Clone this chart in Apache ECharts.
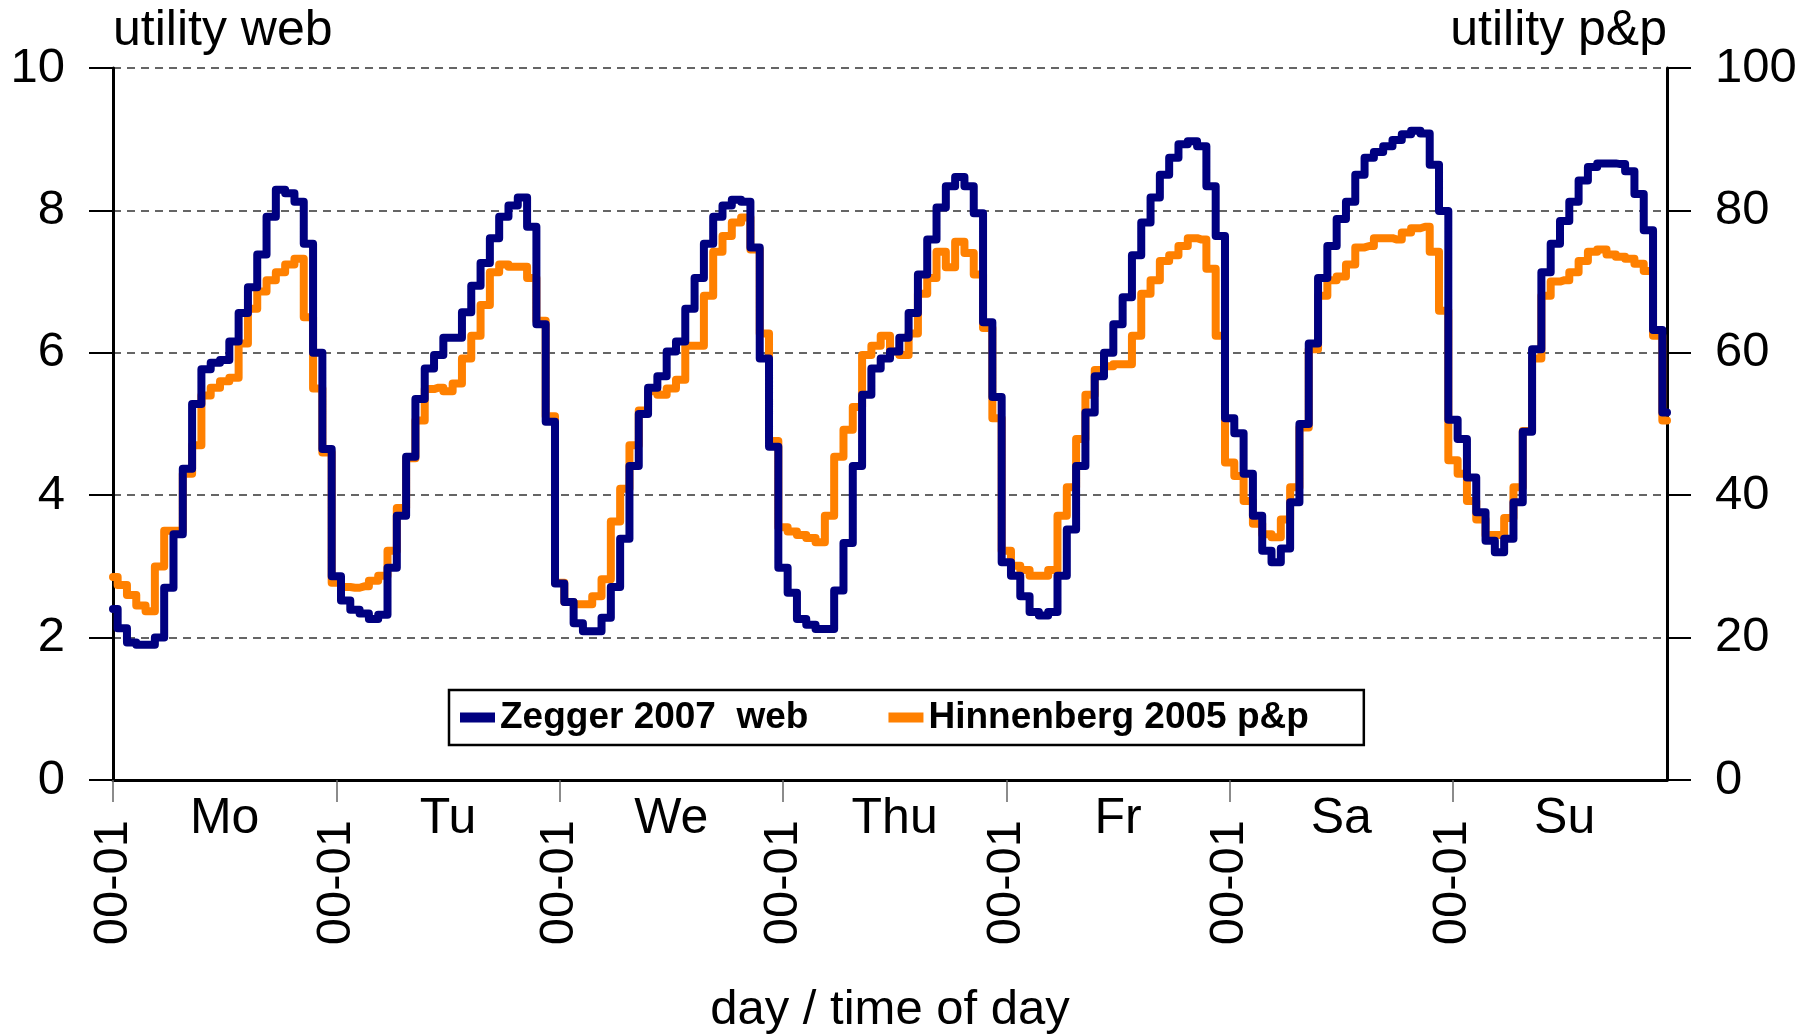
<!DOCTYPE html>
<html>
<head>
<meta charset="utf-8">
<title>utility web / utility p&amp;p</title>
<script src="https://cdn.jsdelivr.net/npm/echarts@6/dist/echarts.min.js"></script>
<style>
  html, body { margin: 0; padding: 0; background: #fff; }
  #main { width: 1809px; height: 1036px; }
</style>
</head>
<body>
<div id="main"></div>
<script>
// week days and hours of the day (category axis = day x hour)
var days = ["Mo", "Tu", "We", "Thu", "Fr", "Sa", "Su"];
var hours = ["00-01", "01-02", "02-03", "03-04", "04-05", "05-06", "06-07", "07-08",
  "08-09", "09-10", "10-11", "11-12", "12-13", "13-14", "14-15", "15-16",
  "16-17", "17-18", "18-19", "19-20", "20-21", "21-22", "22-23", "23-24"];

// utility web (left axis), one row per day
var zeggerWeb = [
  2.4, 2.13, 1.93, 1.9, 1.9, 2.0, 2.7, 3.45, 4.37, 5.28, 5.77, 5.86, 5.9, 6.16, 6.56, 6.92, 7.38, 7.91, 8.29, 8.24, 8.12, 7.53, 6.0, 4.65,
  2.86, 2.52, 2.39, 2.34, 2.26, 2.32, 2.98, 3.71, 4.54, 5.35, 5.78, 5.97, 6.21, 6.21, 6.57, 6.94, 7.26, 7.61, 7.91, 8.07, 8.18, 7.77, 6.4, 5.03,
  2.76, 2.5, 2.2, 2.09, 2.09, 2.28, 2.71, 3.39, 4.41, 5.14, 5.51, 5.67, 6.02, 6.16, 6.62, 7.05, 7.53, 7.91, 8.07, 8.15, 8.12, 7.48, 5.92, 4.68,
  2.98, 2.63, 2.26, 2.18, 2.12, 2.12, 2.66, 3.33, 4.41, 5.41, 5.78, 5.92, 6.02, 6.21, 6.56, 7.1, 7.59, 8.04, 8.34, 8.47, 8.34, 7.96, 6.43, 5.38,
  3.06, 2.87, 2.58, 2.36, 2.31, 2.36, 2.87, 3.52, 4.41, 5.16, 5.67, 6.0, 6.4, 6.78, 7.37, 7.83, 8.18, 8.5, 8.74, 8.93, 8.97, 8.9, 8.34, 7.64,
  5.08, 4.87, 4.3, 3.71, 3.22, 3.06, 3.25, 3.9, 5.0, 6.13, 7.05, 7.5, 7.88, 8.12, 8.5, 8.74, 8.82, 8.9, 8.99, 9.07, 9.12, 9.08, 8.64, 7.99,
  5.06, 4.79, 4.25, 3.76, 3.36, 3.2, 3.39, 3.9, 4.89, 6.05, 7.13, 7.53, 7.85, 8.12, 8.42, 8.61, 8.66, 8.66, 8.65, 8.55, 8.23, 7.72, 6.32, 5.16
];

// utility p&p (right axis), one row per day
var hinnenbergPP = [
  28.5, 27.4, 26, 24.5, 23.7, 30, 35, 35, 43, 47, 54, 55.1, 56, 56.5, 61.3, 66.2, 68.6, 70.2, 71.3, 72.4, 73.2, 65, 55, 46,
  27.7, 27.1, 27, 27.2, 28, 28.7, 32.2, 38.2, 45.2, 50.5, 54.9, 55.1, 54.6, 55.7, 59.2, 62.4, 66.7, 71.3, 72.4, 72.1, 72.1, 70.5, 64.5, 51.1,
  27.7, 25, 24.7, 24.7, 25.8, 28.2, 36.3, 40.9, 47, 51.9, 54.6, 54.1, 55, 56.2, 61, 61, 68, 74.2, 76.4, 78.3, 79, 74.5, 62.7, 47.6,
  35.5, 34.9, 34.4, 34, 33.4, 37.1, 45.4, 49.2, 52.4, 59.7, 61, 62.4, 60.2, 59.7, 62.7, 68.3, 70.5, 74.2, 72, 75.6, 74, 71, 63.5, 50.8,
  32.2, 30.1, 29.5, 28.7, 28.7, 29.5, 37.1, 41.1, 47.9, 54.1, 57.6, 58.1, 58.4, 58.4, 62.4, 68.3, 70.2, 72.9, 73.7, 75, 76.1, 75.9, 71.8, 62.4,
  44.6, 42.7, 39.2, 36, 34.5, 34.1, 36.6, 41.1, 49.5, 60.5, 68, 70.2, 70.7, 72.4, 74.8, 75, 76.1, 76.1, 75.9, 76.9, 77.5, 77.7, 74.2, 65.9,
  44.9, 43, 39.2, 36.6, 34.4, 34.4, 36.8, 41.1, 49, 59.2, 68, 70, 70.2, 71.3, 72.9, 74.2, 74.5, 73.8, 73.5, 73.2, 72.5, 71.5, 62.4, 50.5
];

var categories = [];
days.forEach(function (d) {
  hours.forEach(function (h) { categories.push(d + " " + h); });
});

var FONT = "'Liberation Sans', Arial, Helvetica, sans-serif";

var myChart = echarts.init(document.getElementById("main"), null, { renderer: "canvas" });
myChart.setOption({
  backgroundColor: "#fff",
  animation: false,
  textStyle: { fontFamily: FONT },
  grid: { left: 113, right: 142, top: 68, bottom: 256, containLabel: false, outerBoundsMode: "none" },
  legend: {
    left: 449,
    top: 690,
    padding: [9, 55, 9, 11],
    itemWidth: 35,
    itemHeight: 10,
    itemGap: 80,
    icon: "rect",
    borderColor: "#000",
    borderWidth: 2.5,
    backgroundColor: "#fff",
    textStyle: { fontSize: 37, fontWeight: "bold", color: "#000", fontFamily: FONT },
    data: ["Zegger 2007  web", "Hinnenberg 2005 p&p"]
  },
  xAxis: [
    {
      type: "category",
      data: categories,
      boundaryGap: false,
      position: "bottom",
      name: "day / time of day",
      nameLocation: "middle",
      nameGap: 206,
      nameTextStyle: { fontSize: 49, color: "#000" },
      axisLine: { lineStyle: { color: "#000", width: 3 } },
      axisTick: {
        interval: function (idx) { return idx % 24 === 0; },
        length: 22,
        lineStyle: { color: "#666", width: 1.5 }
      },
      axisLabel: {
        interval: function (idx) { return idx % 24 === 0; },
        rotate: 90,
        margin: 40,
        fontSize: 49,
        color: "#000",
        formatter: function (v) { return v.split(" ")[1]; }
      },
      splitLine: { show: false }
    },
    {
      // day names, centred in each day
      type: "category",
      data: categories,
      boundaryGap: false,
      position: "bottom",
      axisLine: { show: false },
      axisTick: { show: false },
      axisLabel: {
        interval: function (idx) { return idx % 24 === 12; },
        margin: 14,
        fontSize: 50,
        color: "#000",
        formatter: function (v) { return v.split(" ")[0]; }
      },
      splitLine: { show: false }
    }
  ],
  yAxis: [
    {
      type: "value",
      position: "left",
      min: 0,
      max: 10,
      interval: 2,
      name: "utility web",
      nameLocation: "end",
      nameGap: 12,
      nameTextStyle: { fontSize: 50, color: "#000", align: "left", verticalAlign: "bottom" },
      axisLine: { show: true, lineStyle: { color: "#000", width: 3 } },
      axisTick: { show: true, length: 24, lineStyle: { color: "#000", width: 2 } },
      axisLabel: { fontSize: 49, color: "#000", margin: 48 },
      splitLine: { show: true, lineStyle: { color: "#333", type: [8, 6], width: 1.5 } }
    },
    {
      type: "value",
      position: "right",
      min: 0,
      max: 100,
      interval: 20,
      name: "utility p&p",
      nameLocation: "end",
      nameGap: 12,
      nameTextStyle: { fontSize: 50, color: "#000", align: "right", verticalAlign: "bottom" },
      axisLine: { show: true, lineStyle: { color: "#000", width: 3 } },
      axisTick: { show: true, length: 24, lineStyle: { color: "#000", width: 2 } },
      axisLabel: { fontSize: 49, color: "#000", margin: 48 },
      splitLine: { show: false }
    }
  ],
  series: [
    {
      name: "Zegger 2007  web",
      type: "line",
      step: "middle",
      xAxisIndex: 0,
      yAxisIndex: 0,
      symbol: "none",
      z: 3,
      itemStyle: { color: "#000080" },
      lineStyle: { color: "#000080", width: 8, join: "round", cap: "round" },
      data: zeggerWeb
    },
    {
      name: "Hinnenberg 2005 p&p",
      type: "line",
      step: "middle",
      xAxisIndex: 0,
      yAxisIndex: 1,
      symbol: "none",
      z: 2,
      itemStyle: { color: "#ff8000" },
      lineStyle: { color: "#ff8000", width: 8, join: "round", cap: "round" },
      data: hinnenbergPP
    }
  ]
});
window.addEventListener("resize", function () { myChart.resize(); });
</script>
</body>
</html>
